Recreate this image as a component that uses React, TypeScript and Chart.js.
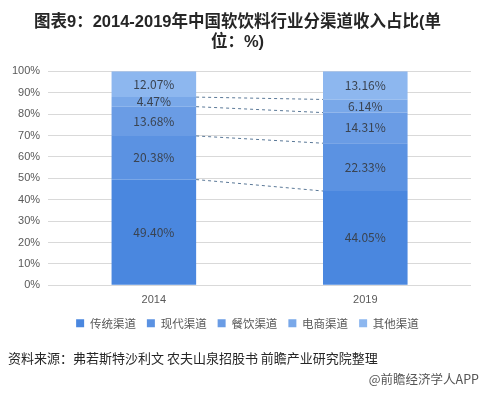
import React, { useEffect, useRef } from "react";
import { Chart, registerables } from "chart.js";

Chart.register(...registerables);

const years = ["2014", "2019"];
const seriesNames = ["传统渠道", "现代渠道", "餐饮渠道", "电商渠道", "其他渠道"];
const traditional = [49.4, 44.05];
const modern = [20.38, 22.33];
const catering = [13.68, 14.31];
const ecommerce = [4.47, 6.14];
const others = [12.07, 13.16];
const seriesColors = ["#4a87df", "#5b92e2", "#6a9ce5", "#79a8e9", "#8db7ef"];
const yTicks = [0, 10, 20, 30, 40, 50, 60, 70, 80, 90, 100];

const titleLines = ["图表9：2014-2019年中国软饮料行业分渠道收入占比(单", "位：%)"];
const sourceText = "资料来源：弗若斯特沙利文 农夫山泉招股书 前瞻产业研究院整理";
const brandText = "@前瞻经济学人APP";

const FONT = "Arial, 'Liberation Sans', 'Noto Sans CJK SC', sans-serif";
const CJK = "'Noto Sans CJK SC', 'Microsoft YaHei', sans-serif";

const labelPlugin = {
  id: "segLabels",
  afterDatasetsDraw(chart: any) {
    const ctx = chart.ctx;
    ctx.save();
    ctx.font = `12px ${CJK}`;
    ctx.fillStyle = "#3a4350";
    ctx.textAlign = "center";
    ctx.textBaseline = "middle";
    chart.data.datasets.forEach((ds: any, i: number) => {
      const meta = chart.getDatasetMeta(i);
      meta.data.forEach((el: any, j: number) => {
        const v = ds.data[j];
        const yc = (el.y + el.base) / 2;
        ctx.fillText(v.toFixed(2) + "%", el.x, yc);
      });
    });
    ctx.restore();
  },
};

const connectorPlugin = {
  id: "connectors",
  afterDatasetsDraw(chart: any) {
    const ctx = chart.ctx;
    const y = chart.scales.y;
    const n = chart.data.datasets.length;
    ctx.save();
    ctx.strokeStyle = "#5a7897";
    ctx.lineWidth = 1;
    ctx.setLineDash([3, 3]);
    for (let i = 0; i < n - 1; i++) {
      const m = chart.getDatasetMeta(i);
      const a = m.data[0];
      const b = m.data[1];
      let c0 = 0;
      let c1 = 0;
      for (let k = 0; k <= i; k++) {
        c0 += chart.data.datasets[k].data[0];
        c1 += chart.data.datasets[k].data[1];
      }
      ctx.beginPath();
      ctx.moveTo(a.x + a.width / 2, y.getPixelForValue(c0));
      ctx.lineTo(b.x - b.width / 2, y.getPixelForValue(c1));
      ctx.stroke();
    }
    ctx.restore();
  },
};

const legendShiftPlugin = {
  id: "legendShift",
  afterLayout(chart: any) {
    const lg = chart.legend;
    if (lg) {
      lg.left += 10;
      lg.right += 10;
    }
  },
};

export default function App() {
  const ref = useRef<HTMLCanvasElement>(null);
  useEffect(() => {
    document.body.style.margin = "0";
    const values = [traditional, modern, catering, ecommerce, others];
    const chart = new Chart(ref.current as HTMLCanvasElement, {
      type: "bar",
      data: {
        labels: years,
        datasets: seriesNames.map((name, i) => ({
          label: name,
          data: values[i],
          backgroundColor: seriesColors[i],
          borderWidth: 0,
          barPercentage: 0.4,
          categoryPercentage: 1,
        })),
      },
      options: {
        responsive: false,
        animation: false,
        devicePixelRatio: 1,
        layout: { padding: { left: 4, right: 12, top: 0, bottom: 55 } },
        scales: {
          x: {
            stacked: true,
            grid: { display: false },
            border: { display: false },
            ticks: { color: "#595959", font: { family: FONT, size: 11 }, padding: 0 },
          },
          y: {
            stacked: true,
            min: 0,
            max: 100,
            afterBuildTicks: (axis: any) => {
              axis.ticks = yTicks.map((v) => ({ value: v }));
            },
            grid: { color: "#d9d9d9", drawTicks: false },
            border: { display: false },
            ticks: {
              color: "#595959",
              font: { family: FONT, size: 11 },
              padding: 8,
              callback: (v: any) => v + "%",
            },
          },
        },
        plugins: {
          title: {
            display: true,
            text: titleLines,
            color: "#262626",
            font: { family: FONT, size: 16.5, weight: "bold", lineHeight: 1.22 },
            padding: { top: 12, bottom: 19 },
          },
          legend: {
            position: "bottom",
            labels: {
              boxWidth: 8,
              boxHeight: 8,
              color: "#595959",
              font: { family: CJK, size: 11.5 },
              padding: 11,
            },
          },
          tooltip: { enabled: false },
        },
      },
      plugins: [labelPlugin, connectorPlugin, legendShiftPlugin],
    } as any);
    return () => chart.destroy();
  }, []);
  return (
    <div style={{ position: "relative", width: 483, height: 394, background: "#fff" }}>
      <canvas ref={ref} width={483} height={394} />
      <div
        style={{
          position: "absolute",
          left: 8,
          top: 348,
          fontFamily: CJK,
          fontSize: 13,
          color: "#262626",
          whiteSpace: "nowrap",
        }}
      >
        {sourceText}
      </div>
      <div
        style={{
          position: "absolute",
          right: 4,
          top: 369,
          fontFamily: CJK,
          fontSize: 12.5,
          color: "#555",
          whiteSpace: "nowrap",
        }}
      >
        {brandText}
      </div>
    </div>
  );
}
